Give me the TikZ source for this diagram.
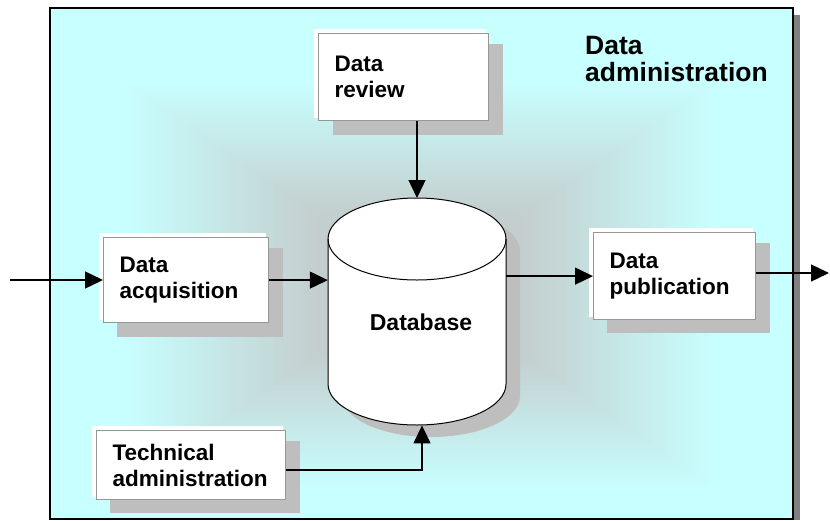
\documentclass[tikz,border=0pt]{standalone}
\usepackage{fontspec}
\setmainfont{Liberation Sans}
\usetikzlibrary{arrows.meta}
\definecolor{cyanbg}{RGB}{200,255,255}
\definecolor{glowc}{RGB}{196,206,206}
\definecolor{shadowc}{RGB}{190,190,190}
\definecolor{shadowedge}{RGB}{150,150,150}
\definecolor{boxedge}{RGB}{150,150,150}
\definecolor{frameshadow}{RGB}{128,128,128}
\begin{document}
\begin{tikzpicture}[x=1pt,y=-1pt,
  procbox/.style={draw=boxedge, line width=1.2pt, fill=white, anchor=north west, align=left,
    inner xsep=16pt, inner ysep=0pt, font=\bfseries\fontsize{22.5}{26}\selectfont},
  conn/.style={line width=1.4pt, -{Triangle[length=18pt,width=17pt]}},
]
\useasboundingbox (0,0) rectangle (830,520);

% frame shadow
\fill[frameshadow] (793,15) rectangle (800,520);

% background with glow
\begin{scope}
  \clip (49,7) rectangle (792,518);
  \fill[cyanbg] (49,7) rectangle (792,518);
  \foreach \i in {0,...,80} {
    \pgfmathsetmacro{\s}{0.80-\i*0.0065}
    \pgfmathsetmacro{\p}{\i*100/80}
    \fill[glowc!\p!cyanbg] ({420-\s*371},{285-\s*255}) rectangle ({420+\s*371},{285+\s*255});
  }
\end{scope}

% frame
\node[draw, line width=1.5pt, anchor=north west, minimum width=743pt, minimum height=511pt, inner sep=0pt] (frame) at (49,7) {};

% title
\node[anchor=north west, align=left, inner sep=0pt, font=\bfseries\fontsize{26.5}{27}\selectfont] (title) at (585,36) {Data\\administration};

% box positions
\path (318,33) coordinate (reviewnw) (103,237) coordinate (acqnw) (593,232) coordinate (pubnw) (96,430) coordinate (technw);

% box shadows
\fill[shadowc] (333,44) rectangle (503,135);
\fill[shadowc] (117,248) rectangle (283,337);
\fill[shadowc] (607,243) rectangle (770,333);
\fill[shadowc] (110,441) rectangle (300,513);

% white raised edges
\fill[white] (314,29) rectangle (486,118);
\fill[white] (99,233) rectangle (266,320);
\fill[white] (589,228) rectangle (753,317);
\fill[white] (92,426) rectangle (283,497);

\node[procbox, text width=138pt, minimum height=87pt] (review) at (reviewnw) {Data\\review};
\node[procbox, text width=133pt, minimum height=85pt] (acq) at (acqnw) {Data\\acquisition};
\node[procbox, text width=130pt, minimum height=87pt] (pub) at (pubnw) {Data\\publication};
\node[procbox, text width=157pt, minimum height=69pt] (tech) at (technw) {Technical\\administration};

% database cylinder shadow
\fill[shadowc] (342,251) -- (342,396) arc[start angle=180, end angle=360, x radius=89pt, y radius=41pt]
  -- (520,251) arc[start angle=0, end angle=180, x radius=89pt, y radius=41pt] -- cycle;
% database cylinder
\filldraw[fill=white, draw=black, line width=1pt] (328,239) -- (328,384)
  arc[start angle=180, end angle=360, x radius=89pt, y radius=41pt]
  -- (506,239) arc[start angle=0, end angle=180, x radius=89pt, y radius=41pt] -- cycle;
\draw[line width=1pt] (328,239) arc[start angle=180, end angle=360, x radius=89pt, y radius=41pt];
\node[minimum width=178pt, minimum height=227pt, inner sep=0pt, anchor=north] (db) at (417,198) {};
\node[font=\bfseries\fontsize{23}{26}\selectfont] (dblabel) at (421,322) {Database};

% connectors
\coordinate (inp) at (10,280);
\coordinate (outp) at (829,273);
\coordinate (tj) at (422,470);
\draw[conn] (inp) -- (acq.west |- inp);
\draw[conn] (acq.east) -- (acq.east -| db.west);
\draw[conn] (db.east |- pub.west) -- (pub.west);
\draw[conn] (pub.east |- outp) -- (outp);
\draw[conn] (db.north |- review.south) -- (db.north);
\draw[conn] (tech.east |- tj) -- (tj) -- (tj |- db.south);
\end{tikzpicture}
\end{document}
